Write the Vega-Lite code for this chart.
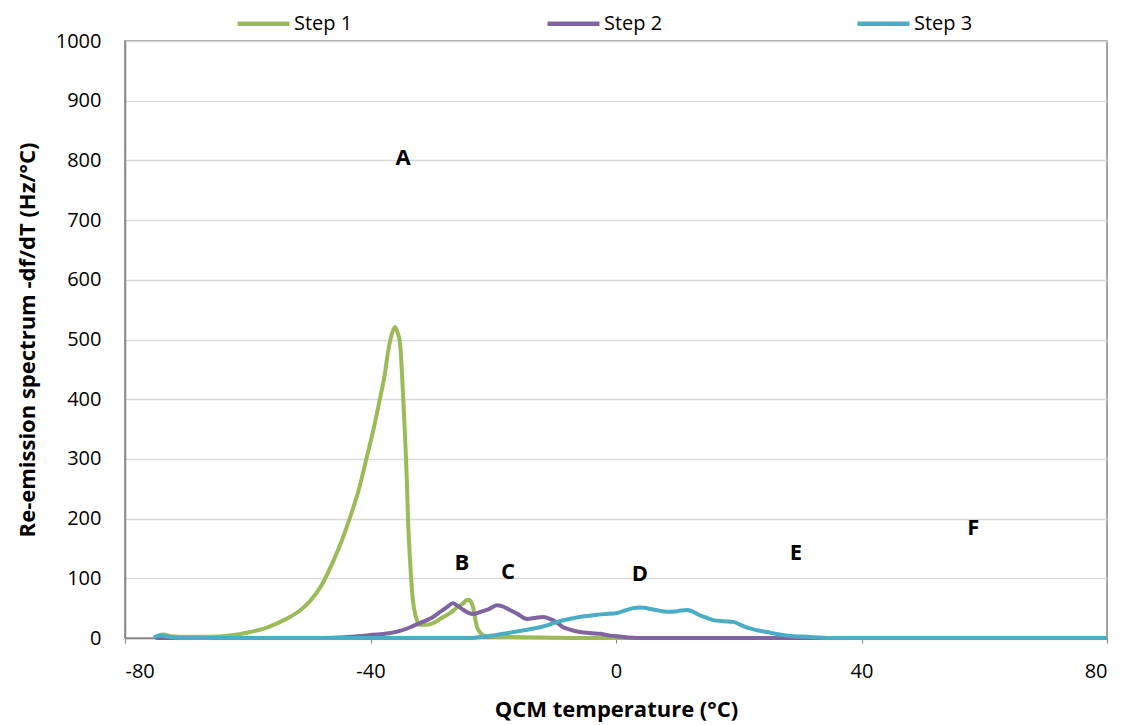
{
  "$schema": "https://vega.github.io/schema/vega-lite/v6.json",
  "width": 982,
  "height": 597,
  "autosize": "none",
  "padding": {"left": 125, "top": 41, "right": 18, "bottom": 87},
  "background": "white",
  "config": {
    "font": "Open Sans",
    "view": {"stroke": "#868686", "strokeWidth": 1.5},
    "axis": {"labelFont": "Open Sans", "titleFont": "Open Sans", "labelColor": "#000", "titleColor": "#000", "domainColor": "#868686", "tickColor": "#868686"}
  },
  "datasets": {
    "curves": [
      {"series": "Step 1", "t": -75.2, "v": 0}, {"series": "Step 1", "t": -74.5, "v": 4}, {"series": "Step 1", "t": -73.8, "v": 6}, {"series": "Step 1", "t": -72.5, "v": 3}, {"series": "Step 1", "t": -70, "v": 2}, {"series": "Step 1", "t": -66, "v": 2}, {"series": "Step 1", "t": -63, "v": 4}, {"series": "Step 1", "t": -61, "v": 7}, {"series": "Step 1", "t": -59.6, "v": 10}, {"series": "Step 1", "t": -57, "v": 17}, {"series": "Step 1", "t": -54.7, "v": 27}, {"series": "Step 1", "t": -53, "v": 36}, {"series": "Step 1", "t": -51.5, "v": 46}, {"series": "Step 1", "t": -50, "v": 60}, {"series": "Step 1", "t": -48, "v": 88}, {"series": "Step 1", "t": -46.1, "v": 128}, {"series": "Step 1", "t": -44.5, "v": 168}, {"series": "Step 1", "t": -43.3, "v": 203}, {"series": "Step 1", "t": -42, "v": 245}, {"series": "Step 1", "t": -40.6, "v": 303}, {"series": "Step 1", "t": -39.5, "v": 350}, {"series": "Step 1", "t": -38.5, "v": 399}, {"series": "Step 1", "t": -37.7, "v": 440}, {"series": "Step 1", "t": -37.1, "v": 482}, {"series": "Step 1", "t": -36.5, "v": 510}, {"series": "Step 1", "t": -36, "v": 521}, {"series": "Step 1", "t": -35.6, "v": 512}, {"series": "Step 1", "t": -35.2, "v": 494}, {"series": "Step 1", "t": -34.8, "v": 430}, {"series": "Step 1", "t": -34.4, "v": 343}, {"series": "Step 1", "t": -34.1, "v": 270}, {"series": "Step 1", "t": -33.9, "v": 203}, {"series": "Step 1", "t": -33.5, "v": 120}, {"series": "Step 1", "t": -33.1, "v": 64}, {"series": "Step 1", "t": -32.6, "v": 35}, {"series": "Step 1", "t": -32, "v": 22}, {"series": "Step 1", "t": -31, "v": 22}, {"series": "Step 1", "t": -29.8, "v": 25}, {"series": "Step 1", "t": -28.5, "v": 33}, {"series": "Step 1", "t": -27, "v": 42}, {"series": "Step 1", "t": -25.8, "v": 52}, {"series": "Step 1", "t": -24.9, "v": 58}, {"series": "Step 1", "t": -24.4, "v": 63}, {"series": "Step 1", "t": -24, "v": 64}, {"series": "Step 1", "t": -23.6, "v": 60}, {"series": "Step 1", "t": -23.3, "v": 52}, {"series": "Step 1", "t": -22.9, "v": 30}, {"series": "Step 1", "t": -22.6, "v": 17}, {"series": "Step 1", "t": -22.2, "v": 10}, {"series": "Step 1", "t": -21.5, "v": 4}, {"series": "Step 1", "t": -20, "v": 2}, {"series": "Step 1", "t": -12, "v": 1}, {"series": "Step 1", "t": -4, "v": 0}, {"series": "Step 1", "t": 80, "v": 0},
      {"series": "Step 2", "t": -75, "v": 0}, {"series": "Step 2", "t": -50, "v": 0}, {"series": "Step 2", "t": -45, "v": 1}, {"series": "Step 2", "t": -42, "v": 3}, {"series": "Step 2", "t": -40, "v": 5}, {"series": "Step 2", "t": -37, "v": 8}, {"series": "Step 2", "t": -35.2, "v": 12}, {"series": "Step 2", "t": -33.5, "v": 18}, {"series": "Step 2", "t": -32, "v": 25}, {"series": "Step 2", "t": -30, "v": 34}, {"series": "Step 2", "t": -28.6, "v": 44}, {"series": "Step 2", "t": -27.5, "v": 52}, {"series": "Step 2", "t": -26.6, "v": 58}, {"series": "Step 2", "t": -25.8, "v": 54}, {"series": "Step 2", "t": -25, "v": 48}, {"series": "Step 2", "t": -24.2, "v": 43}, {"series": "Step 2", "t": -23.3, "v": 40}, {"series": "Step 2", "t": -22, "v": 44}, {"series": "Step 2", "t": -20.8, "v": 48}, {"series": "Step 2", "t": -19.4, "v": 55}, {"series": "Step 2", "t": -18.5, "v": 53}, {"series": "Step 2", "t": -17.3, "v": 47}, {"series": "Step 2", "t": -16, "v": 40}, {"series": "Step 2", "t": -14.5, "v": 32}, {"series": "Step 2", "t": -13, "v": 34}, {"series": "Step 2", "t": -11.9, "v": 35}, {"series": "Step 2", "t": -10.8, "v": 32}, {"series": "Step 2", "t": -10.3, "v": 30}, {"series": "Step 2", "t": -9.4, "v": 24}, {"series": "Step 2", "t": -8.6, "v": 18}, {"series": "Step 2", "t": -7.5, "v": 14}, {"series": "Step 2", "t": -5.9, "v": 10}, {"series": "Step 2", "t": -4, "v": 8}, {"series": "Step 2", "t": -2.6, "v": 7}, {"series": "Step 2", "t": -1, "v": 4}, {"series": "Step 2", "t": 0.2, "v": 3}, {"series": "Step 2", "t": 2, "v": 1}, {"series": "Step 2", "t": 5, "v": 0}, {"series": "Step 2", "t": 80, "v": 0},
      {"series": "Step 3", "t": -75.3, "v": 0}, {"series": "Step 3", "t": -74.5, "v": 4}, {"series": "Step 3", "t": -73.5, "v": 3}, {"series": "Step 3", "t": -72, "v": 1}, {"series": "Step 3", "t": -70, "v": 0}, {"series": "Step 3", "t": -24, "v": 0}, {"series": "Step 3", "t": -21, "v": 3}, {"series": "Step 3", "t": -17.8, "v": 8}, {"series": "Step 3", "t": -15, "v": 13}, {"series": "Step 3", "t": -12.4, "v": 18}, {"series": "Step 3", "t": -11, "v": 22}, {"series": "Step 3", "t": -9.6, "v": 27}, {"series": "Step 3", "t": -7, "v": 33}, {"series": "Step 3", "t": -5.5, "v": 36}, {"series": "Step 3", "t": -3.7, "v": 38}, {"series": "Step 3", "t": -2, "v": 40}, {"series": "Step 3", "t": 0.2, "v": 42}, {"series": "Step 3", "t": 1.5, "v": 46}, {"series": "Step 3", "t": 2.8, "v": 50}, {"series": "Step 3", "t": 4, "v": 51}, {"series": "Step 3", "t": 5, "v": 50}, {"series": "Step 3", "t": 6.5, "v": 47}, {"series": "Step 3", "t": 8.3, "v": 44}, {"series": "Step 3", "t": 10, "v": 45}, {"series": "Step 3", "t": 11.6, "v": 47}, {"series": "Step 3", "t": 12.5, "v": 44}, {"series": "Step 3", "t": 13.7, "v": 38}, {"series": "Step 3", "t": 15, "v": 33}, {"series": "Step 3", "t": 15.8, "v": 30}, {"series": "Step 3", "t": 17.5, "v": 28}, {"series": "Step 3", "t": 19.1, "v": 27}, {"series": "Step 3", "t": 20.5, "v": 21}, {"series": "Step 3", "t": 21.8, "v": 16}, {"series": "Step 3", "t": 23, "v": 13}, {"series": "Step 3", "t": 24.6, "v": 10}, {"series": "Step 3", "t": 26, "v": 7}, {"series": "Step 3", "t": 27.2, "v": 5}, {"series": "Step 3", "t": 29, "v": 3}, {"series": "Step 3", "t": 31.1, "v": 2}, {"series": "Step 3", "t": 33, "v": 1}, {"series": "Step 3", "t": 35, "v": 0}, {"series": "Step 3", "t": 80, "v": 0}
    ],
    "labels": [
      {"t": -34.7, "v": 804, "label": "A"},
      {"t": -25.1, "v": 126, "label": "B"},
      {"t": -17.6, "v": 111, "label": "C"},
      {"t": 3.9, "v": 107, "label": "D"},
      {"t": 29.3, "v": 142, "label": "E"},
      {"t": 58.2, "v": 184, "label": "F"}
    ]
  },
  "layer": [
    {
      "data": {"name": "curves"},
      "mark": {"type": "line", "strokeWidth": 4, "interpolate": "monotone"},
      "encoding": {
        "x": {"field": "t", "type": "quantitative", "scale": {"domain": [-80, 80], "nice": false},
          "axis": {"values": [-80, -40, 0, 40, 80], "labelExpr": "'' + datum.value", "grid": false, "tickSize": 5, "labelFontSize": 20, "labelPadding": 18, "title": "QCM temperature (°C)", "titleFontSize": 22, "titleFontWeight": "bold", "titlePadding": 18, "domainWidth": 1.5}},
        "y": {"field": "v", "type": "quantitative", "scale": {"domain": [0, 1000], "nice": false},
          "axis": {"values": [0, 100, 200, 300, 400, 500, 600, 700, 800, 900, 1000], "format": "d", "grid": true, "gridColor": "#d9d9d9", "gridWidth": 1.5, "ticks": false, "labelFontSize": 20, "labelPadding": 24, "title": "Re-emission spectrum -df/dT (Hz/°C)", "titleFontSize": 22, "titleFontWeight": "bold", "titlePadding": 16, "domainWidth": 1.5}},
        "color": {"field": "series", "type": "nominal",
          "scale": {"domain": ["Step 1", "Step 2", "Step 3"], "range": ["#9BBB59", "#8064A2", "#4BACC6"]},
          "legend": {"title": null, "orient": "none", "legendX": 110, "legendY": -46, "direction": "horizontal", "columns": 3, "columnPadding": 185, "symbolType": "stroke", "symbolSize": 2700, "symbolStrokeWidth": 4.5, "labelFontSize": 20, "labelOffset": 2, "labelColor": "#000"}}
      }
    },
    {
      "data": {"name": "labels"},
      "mark": {"type": "text", "fontSize": 22, "fontWeight": "bold", "font": "Open Sans", "color": "#000"},
      "encoding": {
        "x": {"field": "t", "type": "quantitative"},
        "y": {"field": "v", "type": "quantitative"},
        "text": {"field": "label"}
      }
    }
  ]
}
